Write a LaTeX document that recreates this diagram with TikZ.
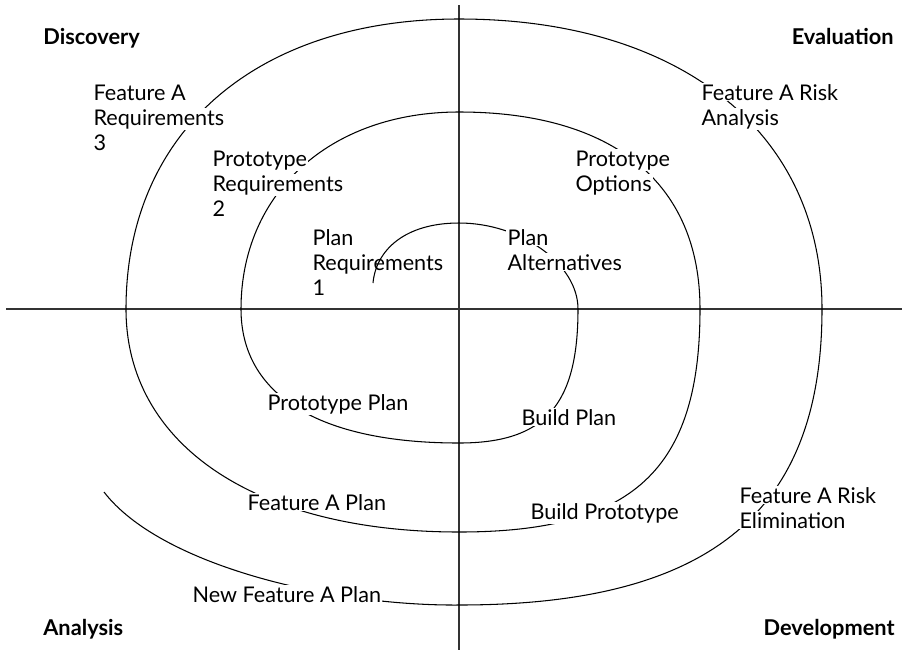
\documentclass[tikz,border=0pt]{standalone}
\usepackage{fontspec}
\setmainfont{Lato}
\usetikzlibrary{positioning}

\newcommand{\wbox}[1]{{\setlength{\fboxsep}{0.7pt}\colorbox{white}{#1}}}

\begin{document}
\begin{tikzpicture}[
    x=0.02cm, y=-0.02cm,
    axis/.style={draw=black!80, line width=0.8pt},
    spiral/.style={draw=black, line width=0.6pt},
    phase/.style={font=\fontsize{12.4}{14.2}\selectfont\bfseries, inner sep=0pt},
    task/.style={font=\fontsize{12.3}{14.2}\selectfont, align=left, anchor=base west, inner sep=0pt}
]
\useasboundingbox (0,0) rectangle (902,650);

% axes
\coordinate (top) at (459,5);
\coordinate (bottom) at (459,650);
\coordinate (left) at (6,309);
\coordinate (right) at (902,309);
\draw[axis] (top) -- (bottom);
\draw[axis] (left) -- (right);

% spiral, inside out (first bit drawn last, over the text)
\coordinate (start) at (373,283);
\coordinate (inner) at (459,223);
\draw[spiral] (inner)
    .. controls (521,223) and (578,264) .. (578,309)
    .. controls (578,405) and (545,443) .. (459,443)
    .. controls (319,443) and (241,395) .. (241,309)
    .. controls (241,193) and (330,112) .. (459,112)
    .. controls (613,112) and (700,183) .. (700,309)
    .. controls (700,470) and (633,532) .. (459,532)
    .. controls (256,532) and (126,445) .. (126,309)
    .. controls (126,132) and (256,19) .. (459,19)
    .. controls (680,19) and (822,132) .. (822,309)
    .. controls (822,513) and (709,605) .. (459,605)
    .. controls (330,606) and (160,565) .. (104,492);

% quadrant names
\node[phase, anchor=base west] (disc) at (43,44) {Discovery};
\node[phase, anchor=base east] (eval) at (894,44) {Evaluation};
\node[phase, anchor=base west] (anal) at (43,635) {Analysis};
\node[phase, anchor=base east] (dev) at (895,635) {Development};

% steps (anchor is the last line's baseline)
\node[task] (featreq) at (92,150) {\wbox{Feature A}\\\wbox{Requirements}\\\wbox{3}};
\node[task] (protoreq) at (211,216) {\wbox{Prototype}\\\wbox{Requirements}\\\wbox{2}};
\node[task] (planreq) at (311,295) {\wbox{Plan}\\\wbox{Requirements}\\\wbox{1}};
\node[task] (planalt) at (506,270) {\wbox{Plan}\\\wbox{Alternatives}};
\node[task] (protoopt) at (574,191) {\wbox{Prototype}\\\wbox{Options}};
\node[task] (featrisk) at (700,125) {\wbox{Feature A Risk}\\\wbox{Analysis}};
\node[task] (protoplan) at (266,410) {\wbox{Prototype Plan}};
\node[task] (buildplan) at (520,425) {\wbox{Build Plan}};
\node[task] (featplan) at (246,510) {\wbox{Feature A Plan}};
\node[task] (buildproto) at (529,519) {\wbox{Build Prototype}};
\node[task] (riskelim) at (738,528) {\wbox{Feature A Risk}\\\wbox{Elimination}};
\node[task] (newplan) at (191,602) {\wbox{New Feature A Plan}};

\draw[spiral] (start) .. controls (376,250) and (405,223) .. (inner);
\end{tikzpicture}
\end{document}
